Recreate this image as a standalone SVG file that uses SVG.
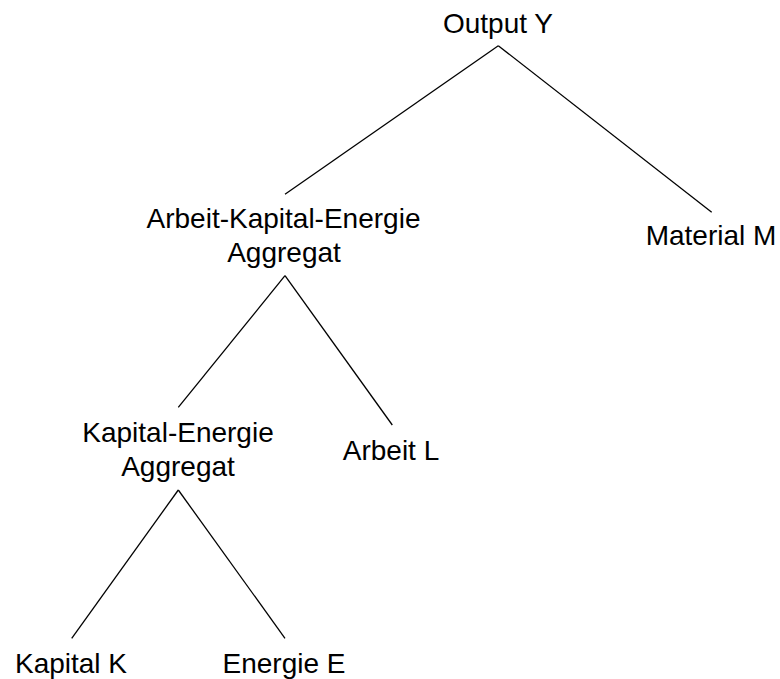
<svg xmlns="http://www.w3.org/2000/svg" width="780" height="679" viewBox="0 0 780 679">
<style>
text{font-family:"Liberation Sans",Arial,sans-serif;font-size:28px;fill:#000;text-anchor:middle}
.e{stroke:#000;stroke-width:1.3;fill:none}
</style>
<rect width="780" height="679" fill="#fff"/>
<g id="connectors">
<line class="e" x1="498.3" y1="45.7" x2="285" y2="194.3"/>
<line class="e" x1="498.3" y1="45.7" x2="711.7" y2="212.3"/>
<line class="e" x1="285" y1="275.7" x2="178.3" y2="407.3"/>
<line class="e" x1="285" y1="275.7" x2="392.3" y2="425"/>
<line class="e" x1="178.3" y1="490" x2="71.7" y2="638.3"/>
<line class="e" x1="178.3" y1="490" x2="285" y2="638.3"/>
</g>
<g id="output"><text x="498" y="33.3">Output Y</text></g>
<g id="ake"><text x="283.5" y="228.3">Arbeit-Kapital-Energie</text><text x="284" y="262.3">Aggregat</text></g>
<g id="material"><text x="711" y="245">Material M</text></g>
<g id="ke"><text x="178" y="441.7">Kapital-Energie</text><text x="178" y="476">Aggregat</text></g>
<g id="arbeit"><text x="391" y="460">Arbeit L</text></g>
<g id="kapital"><text x="71" y="672.7">Kapital K</text></g>
<g id="energie"><text x="284" y="672.7">Energie E</text></g>
</svg>
